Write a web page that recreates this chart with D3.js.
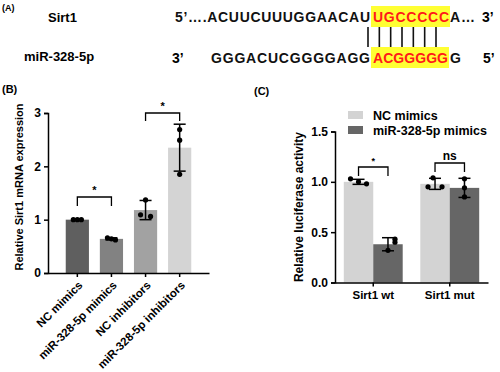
<!DOCTYPE html>
<html>
<head>
<meta charset="utf-8">
<script src="https://cdn.jsdelivr.net/npm/d3@7"></script>
<style>
  body { margin: 0; background: #fff; }
  text { font-family: Arial, "Liberation Sans", sans-serif; }
</style>
</head>
<body>
<div id="chart"></div>
<script>
// panel A sequences
var seqSirt1 = ["5’….ACUUCUUUGGAACAU", "UGCCCCC", "A…"];
var seqMiR = ["GGGACUCGGGGAGG", "ACGGGGG", "G"];

// panel B data
var groupsB = ["NC mimics", "miR-328-5p mimics", "NC inhibitors", "miR-328-5p inhibitors"];
var meansB = [1.0, 0.64, 1.18, 2.35];
var sdB = [0.01, 0.02, 0.18, 0.44];
var pointsB = [[1.0, 1.0, 1.0], [0.66, 0.64, 0.62], [1.37, 1.09, 1.06], [2.69, 2.49, 1.85]];
var colorsB = ["#5f5f5f", "#828282", "#a2a2a2", "#d4d4d4"];
var ticksB = [0, 1, 2, 3];

// panel C data
var groupsC = ["Sirt1 wt", "Sirt1 mut"];
var seriesC = ["NC mimics", "miR-328-5p mimics"];
var meansC = [[1.0, 0.38], [0.98, 0.94]];
var sdC = [[0.025, 0.065], [0.055, 0.095]];
var pointsC = [[[1.03, 1.0, 0.98], [0.43, 0.40, 0.32]], [[1.04, 0.95, 0.95], [1.03, 0.94, 0.85]]];
var colorsC = ["#d3d3d3", "#666666"];
var ticksC = [0, 0.5, 1.0, 1.5];

var svg = d3.select("#chart").append("svg")
  .attr("width", 500).attr("height", 372);

// ---- panel A: sequence alignment ----
var pa = svg.append("g");
pa.append("text").attr("x", 2).attr("y", 11).attr("font-size", 9).attr("font-weight", "bold").text("(A)");
pa.append("text").attr("x", 48).attr("y", 22).attr("font-size", 13).attr("font-weight", "bold").text("Sirt1");
pa.append("text").attr("x", 24).attr("y", 61).attr("font-size", 13).attr("font-weight", "bold").text("miR-328-5p");

// highlight boxes
pa.append("rect").attr("x", 371).attr("y", 6).attr("width", 79).attr("height", 21).attr("fill", "#ffff33");
pa.append("rect").attr("x", 371).attr("y", 47).attr("width", 78).attr("height", 21).attr("fill", "#ffff33");

function seqSegment(x, y, w, txt, col) {
  pa.append("text").attr("x", x).attr("y", y).attr("font-size", 14).attr("font-weight", "bold")
    .attr("fill", col).attr("textLength", w).attr("lengthAdjust", "spacing").text(txt);
}
seqSegment(175, 22, 195, seqSirt1[0], "#111");
seqSegment(373, 22, 76, seqSirt1[1], "#ff1a1a");
seqSegment(450, 22, 25, seqSirt1[2], "#111");
pa.append("text").attr("x", 482).attr("y", 22).attr("font-size", 14).attr("font-weight", "bold").text("3’");

pa.append("text").attr("x", 172).attr("y", 63).attr("font-size", 14).attr("font-weight", "bold").text("3’");
seqSegment(211, 63, 159, seqMiR[0], "#111");
seqSegment(373, 63, 75, seqMiR[1], "#ff1a1a");
seqSegment(450, 63, 12, seqMiR[2], "#111");
pa.append("text").attr("x", 483).attr("y", 63).attr("font-size", 14).attr("font-weight", "bold").text("5’");

var pairX = d3.scaleLinear().domain([0, 6]).range([368, 436]);
pa.selectAll("line.pair").data(d3.range(7)).enter().append("line")
  .attr("x1", function(d) { return pairX(d); }).attr("x2", function(d) { return pairX(d); })
  .attr("y1", 27).attr("y2", 47)
  .attr("stroke", "#111").attr("stroke-width", 1.6);

// ---- panel B ----
var pb = svg.append("g");
pb.append("text").attr("x", 2).attr("y", 93).attr("font-size", 11).attr("font-weight", "bold").text("(B)");

var xB = d3.scaleBand().domain(groupsB).range([48, 209]).paddingInner(0.32).paddingOuter(0.52);
var yB = d3.scaleLinear().domain([0, 3]).range([273, 113]);

pb.selectAll("rect.bar").data(groupsB).enter().append("rect")
  .attr("x", function(d) { return xB(d); })
  .attr("y", function(d, i) { return yB(meansB[i]); })
  .attr("width", xB.bandwidth())
  .attr("height", function(d, i) { return yB(0) - yB(meansB[i]); })
  .attr("fill", function(d, i) { return colorsB[i]; });

// error bars and points
groupsB.forEach(function(g, i) {
  var cx = xB(g) + xB.bandwidth() / 2;
  var lo = yB(meansB[i] - sdB[i]), hi = yB(meansB[i] + sdB[i]);
  pb.append("line").attr("x1", cx).attr("x2", cx).attr("y1", lo).attr("y2", hi).attr("stroke", "#000").attr("stroke-width", 1.5);
  [lo, hi].forEach(function(yy) {
    pb.append("line").attr("x1", cx - 6).attr("x2", cx + 6).attr("y1", yy).attr("y2", yy).attr("stroke", "#000").attr("stroke-width", 1.5);
  });
  var offs = i === 2 ? [0, -5, 5] : (i === 3 ? [0, 0, 0] : [-4, 0, 4]);
  pointsB[i].forEach(function(v, j) {
    pb.append("circle").attr("cx", cx + offs[j]).attr("cy", yB(v)).attr("r", 2.6).attr("fill", "#000");
  });
});

var axB = pb.append("g").attr("transform", "translate(48,0)")
  .call(d3.axisLeft(yB).tickValues(ticksB).tickSize(4).tickFormat(d3.format("d")));
axB.select(".domain").attr("stroke-width", 1.5);
axB.selectAll(".tick line").attr("stroke-width", 1.5);
axB.selectAll(".tick text").attr("font-size", 12).attr("font-weight", "bold").attr("font-family", "Arial, 'Liberation Sans', sans-serif");

var axBx = pb.append("g").attr("transform", "translate(0,273)")
  .call(d3.axisBottom(xB).tickSize(4).tickSizeOuter(0));
axBx.select(".domain").attr("stroke-width", 1.5);
axBx.selectAll(".tick line").attr("stroke-width", 1.5);
axBx.selectAll(".tick text")
  .attr("font-size", 11.5).attr("font-weight", "bold").attr("font-family", "Arial, 'Liberation Sans', sans-serif")
  .attr("text-anchor", "end").attr("dy", null).attr("y", 0)
  .attr("transform", "translate(6,13) rotate(-45)");

pb.append("text").attr("transform", "translate(23,187) rotate(-90)")
  .attr("text-anchor", "middle").attr("font-size", 11).attr("font-weight", "bold")
  .text("Relative Sirt1 mRNA expression");

function bracket(g, x1, x2, yTop, drop, label, fs) {
  g.append("path").attr("d", "M" + x1 + "," + (yTop + drop) + "V" + yTop + "H" + x2 + "V" + (yTop + drop))
    .attr("fill", "none").attr("stroke", "#000").attr("stroke-width", 1.3);
  g.append("text").attr("x", (x1 + x2) / 2).attr("y", yTop - 3).attr("text-anchor", "middle")
    .attr("font-size", fs).attr("font-weight", "bold").text(label);
}
var cB = function(i) { return xB(groupsB[i]) + xB.bandwidth() / 2; };
bracket(pb, cB(0), cB(1), 197, 9, "*", 11);
bracket(pb, cB(2), cB(3), 113, 8, "*", 11);

// ---- panel C ----
var pc = svg.append("g");
pc.append("text").attr("x", 254).attr("y", 95).attr("font-size", 11).attr("font-weight", "bold").text("(C)");

var xC = d3.scaleBand().domain(groupsC).range([335, 488]).paddingInner(0.23).paddingOuter(0.115);
var xS = d3.scaleBand().domain(seriesC).range([0, xC.bandwidth()]);
var yC = d3.scaleLinear().domain([0, 1.5]).range([282.5, 131.5]);

groupsC.forEach(function(g, gi) {
  seriesC.forEach(function(s, si) {
    var x0 = xC(g) + xS(s);
    var cx = x0 + xS.bandwidth() / 2;
    pc.append("rect").attr("x", x0).attr("y", yC(meansC[gi][si]))
      .attr("width", xS.bandwidth()).attr("height", yC(0) - yC(meansC[gi][si]))
      .attr("fill", colorsC[si]);
    var lo = yC(meansC[gi][si] - sdC[gi][si]), hi = yC(meansC[gi][si] + sdC[gi][si]);
    pc.append("line").attr("x1", cx).attr("x2", cx).attr("y1", lo).attr("y2", hi).attr("stroke", "#000").attr("stroke-width", 1.5);
    [lo, hi].forEach(function(yy) {
      pc.append("line").attr("x1", cx - 6).attr("x2", cx + 6).attr("y1", yy).attr("y2", yy).attr("stroke", "#000").attr("stroke-width", 1.5);
    });
    var offs = (si === 1 && gi === 1) ? [0, 0, 0] : [-8, 0, 8];
    if (gi === 1 && si === 0) offs = [-2, -7, 7];
    if (gi === 0 && si === 1) offs = [7, 7, 0];
    pointsC[gi][si].forEach(function(v, j) {
      pc.append("circle").attr("cx", cx + offs[j]).attr("cy", yC(v)).attr("r", 2.6).attr("fill", "#000");
    });
  });
});

var axC = pc.append("g").attr("transform", "translate(335,0)")
  .call(d3.axisLeft(yC).tickValues(ticksC).tickSize(4).tickFormat(d3.format(".1f")));
axC.select(".domain").attr("stroke-width", 1.5);
axC.selectAll(".tick line").attr("stroke-width", 1.5);
axC.selectAll(".tick text").attr("font-size", 12).attr("font-weight", "bold").attr("font-family", "Arial, 'Liberation Sans', sans-serif");

var axCx = pc.append("g").attr("transform", "translate(0,282.5)")
  .call(d3.axisBottom(xC).tickSize(4).tickSizeOuter(0));
axCx.select(".domain").attr("stroke-width", 1.5);
axCx.selectAll(".tick line").attr("stroke-width", 1.5);
axCx.selectAll(".tick text").attr("font-size", 11.5).attr("font-weight", "bold")
  .attr("font-family", "'Liberation Serif', 'Times New Roman', serif").attr("y", 8);

pc.append("text").attr("transform", "translate(303,207) rotate(-90)")
  .attr("text-anchor", "middle").attr("font-size", 12).attr("font-weight", "bold")
  .text("Relative luciferase activity");

var cC = function(gi, si) { return xC(groupsC[gi]) + xS(seriesC[si]) + xS.bandwidth() / 2; };
bracket(pc, cC(0, 0), cC(0, 1), 167, 9, "*", 9);
bracket(pc, cC(1, 0), cC(1, 1), 163, 9, "ns", 12);

// legend
var leg = pc.selectAll("g.leg").data(seriesC).enter().append("g")
  .attr("transform", function(d, i) { return "translate(348," + (111 + i * 15) + ")"; });
leg.append("rect").attr("width", 15).attr("height", 8).attr("fill", function(d, i) { return colorsC[i]; });
leg.append("text").attr("x", 25).attr("y", 8.5).attr("font-size", 12.5).attr("font-weight", "bold").text(function(d) { return d; });
</script>
</body>
</html>
